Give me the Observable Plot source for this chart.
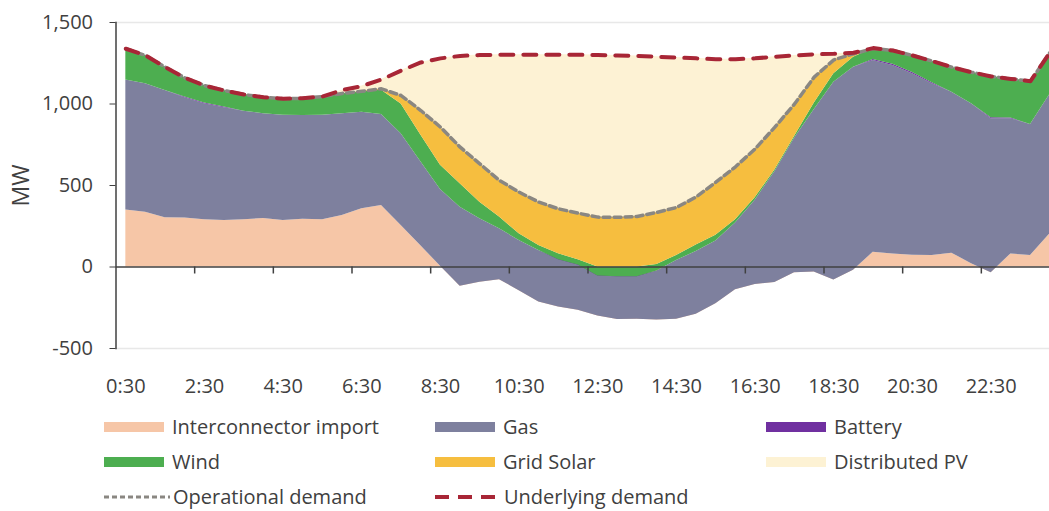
<!DOCTYPE html>
<html><head><meta charset="utf-8">
<script src="https://cdn.jsdelivr.net/npm/d3@7"></script>
<script src="https://cdn.jsdelivr.net/npm/@observablehq/plot@0.6"></script>
<style>
body{margin:0;background:#fff;overflow:hidden;font-family:"Open Sans",sans-serif;color:#404040}
#chart{position:relative;width:1049px;height:511px;overflow:hidden}
#legend{position:absolute;left:0;top:400px;width:1049px;height:111px}
.item{position:absolute;display:flex;align-items:center;font-size:20px;height:35px;white-space:nowrap;color:#404040}
.sw{width:60px;height:10px;margin-right:8px}
.ln{margin-right:3px}
</style></head><body><div id="chart"></div><script>
const times = ["0:30","1:00","1:30","2:00","2:30","3:00","3:30","4:00","4:30","5:00","5:30","6:00","6:30","7:00","7:30","8:00","8:30","9:00","9:30","10:00","10:30","11:00","11:30","12:00","12:30","13:00","13:30","14:00","14:30","15:00","15:30","16:00","16:30","17:00","17:30","18:00","18:30","19:00","19:30","20:00","20:30","21:00","21:30","22:00","22:30","23:00","23:30","24:00"];
const interconnector = [350,336,302,300,290,285,290,298,285,293,290,316,357,377,255,130,5,-118,-93,-78,-145,-215,-245,-265,-300,-322,-320,-325,-320,-290,-225,-140,-108,-95,-35,-30,-80,-20,90,80,72,70,85,20,-35,80,70,205];
const gas = [798,788,781,738,711,692,666,642,646,636,641,624,593,558,562,515,470,485,389,312,308,316,295,285,250,267,265,300,360,385,385,410,518,680,825,995,1214,1246,1177,1156,1113,1054,987,981,944,829,804,857];
const battery = [0,0,0,5,5,4,0,0,0,0,0,0,0,0,0,0,0,0,0,0,0,0,-5,-8,-5,-5,-5,0,0,0,0,0,0,0,0,0,0,0,6,8,8,6,0,0,6,5,0,0];
const wind = [191,174,143,118,107,102,102,102,101,106,115,125,125,150,183,165,150,143,102,72,41,31,36,33,55,60,60,40,30,40,35,20,15,10,10,40,51,61,67,84,105,133,154,194,254,240,266,256];
const gridSolar = [0,0,0,0,0,0,0,0,0,0,0,0,3,8,52,150,233,225,235,225,255,266,276,285,306,305,310,320,295,295,325,325,300,263,200,160,86,21,0,0,0,0,0,0,0,0,0,0];
const distributedPV = [0,0,0,0,0,0,0,0,0,0,0,20,32,57,153,295,422,560,667,771,843,904,945,972,994,993,985,955,920,850,755,660,555,432,298,140,37,6,3,0,0,0,0,0,0,0,0,0];
const xTickLabels = ["0:30","2:30","4:30","6:30","8:30","10:30","12:30","14:30","16:30","18:30","20:30","22:30"];
const yTicks = [-500,0,500,1000,1500];
const yLabel = "MW";

const seriesNames = ["Interconnector import","Gas","Battery","Wind","Grid Solar","Distributed PV"];
const seriesColors = ["#F6C6A7","#7E809E","#7030A0","#4DAE50","#F6BE3F","#FDF2D4"];
const seriesValues = [interconnector,gas,battery,wind,gridSolar,distributedPV];
const opColor = "#8a8782", undColor = "#a82636";

const rows = times.map((t,i) => {
  const cum = [0];
  seriesValues.forEach((arr,k) => cum.push(cum[k] + arr[i]));
  return {i, t, cum, op: cum[5], und: cum[6]};
});

const labelIdx = xTickLabels.map(l => times.indexOf(l));
const tickBounds = labelIdx.slice(1).map(i => i - 0.5);
const tickLen = 7 * 2000 / 326;

const areas = seriesNames.map((name,k) => Plot.area(rows, {
  x1: "i", y1: d => d.cum[k], y2: d => d.cum[k+1], fill: seriesColors[k], curve: "linear"
}));

const chart = Plot.plot({
  width: 1049, height: 400,
  marginTop: 22, marginBottom: 52, marginLeft: 115.5, marginRight: 0,
  style: {fontFamily: "'Open Sans', sans-serif", fontSize: "20px", color: "#404040", background: "transparent", overflow: "hidden"},
  x: {domain: [-0.5, 47.5], range: [115.5, 1059.5]},
  y: {domain: [-500, 1500]},
  marks: [
    Plot.ruleY([1500, -500], {stroke: "#e8e8e8", strokeWidth: 1.5}),
    ...areas,
    Plot.line(rows, {x: "i", y: "op", stroke: opColor, strokeWidth: 3.5, strokeDasharray: "7,4"}),
    Plot.line(rows, {x: "i", y: "und", stroke: undColor, strokeWidth: 4, strokeDasharray: "13,10"}),
    Plot.ruleY([0], {stroke: "#404040", strokeWidth: 1.5}),
    Plot.ruleX(tickBounds, {x: d => d, y1: 0, y2: -tickLen, stroke: "#404040", strokeWidth: 1.5}),
    Plot.frame({anchor: "left", stroke: "#404040", strokeWidth: 1.5}),
    Plot.axisY({ticks: yTicks, tickSize: 6, tickPadding: 17, label: null,
      tickFormat: d => d3.format(",")(d).replace("\u2212", "-")}),
    Plot.axisX({ticks: labelIdx, tickSize: 0, tickPadding: 30, label: null,
      tickFormat: i => times[i]}),
    Plot.text([{label: yLabel, v: (yTicks[0] + yTicks[yTicks.length - 1]) / 2}],
      {frameAnchor: "left", y: "v", text: "label", dx: -94, rotate: -90, fontSize: 23, fill: "#404040",
       textAnchor: "middle", lineAnchor: "middle"})
  ]
});
const root = document.getElementById("chart");
root.appendChild(chart);

const legend = document.createElement("div");
legend.id = "legend";
root.appendChild(legend);
const items = seriesNames.map((n,k) => ({name: n, type: "area", color: seriesColors[k]}))
  .concat([{name: "Operational demand", type: "line", color: opColor, dash: "5,3", w: 3},
           {name: "Underlying demand", type: "line", color: undColor, dash: "14,9", w: 4}]);
items.forEach((it, j) => {
  const row = Math.floor(j / 3), col = j % 3;
  const el = document.createElement("div");
  el.className = "item";
  el.style.top = (9 + row * 35) + "px";
  el.style.left = (104 + col * 331) + "px";
  if (it.type === "area") {
    const sw = document.createElement("span");
    sw.className = "sw"; sw.style.background = it.color;
    el.appendChild(sw);
  } else {
    const ns = "http://www.w3.org/2000/svg";
    const svg = document.createElementNS(ns, "svg");
    svg.setAttribute("width", 66); svg.setAttribute("height", 10); svg.setAttribute("class", "ln");
    const line = document.createElementNS(ns, "line");
    line.setAttribute("x1", 0); line.setAttribute("x2", 66); line.setAttribute("y1", 5); line.setAttribute("y2", 5);
    line.setAttribute("stroke", it.color); line.setAttribute("stroke-width", it.w);
    line.setAttribute("stroke-dasharray", it.dash);
    svg.appendChild(line);
    el.appendChild(svg);
  }
  const tx = document.createElement("span");
  tx.textContent = it.name;
  el.appendChild(tx);
  legend.appendChild(el);
});
</script></body></html>
